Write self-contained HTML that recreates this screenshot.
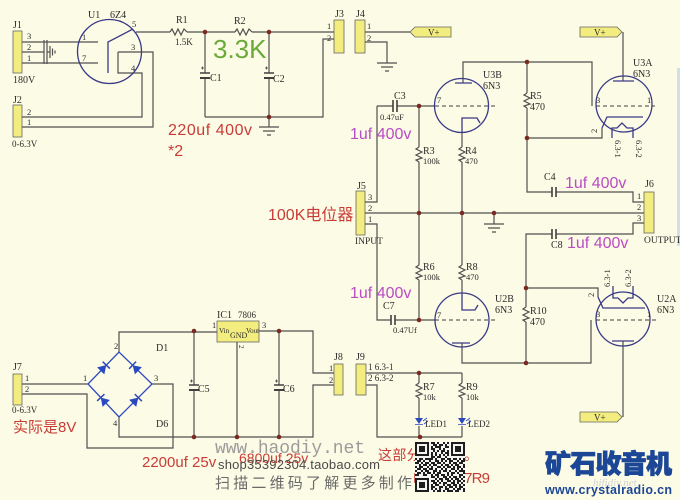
<!DOCTYPE html>
<html><head><meta charset="utf-8">
<style>
html,body{margin:0;padding:0;background:#fcfbe5;}
svg{display:block}
.w{stroke:#505050;stroke-width:1.2;fill:none}
.n{stroke:#3a3a88;stroke-width:1.3;fill:none}
.d{stroke:#404040;stroke-width:1;stroke-dasharray:4 3;fill:none}
.b{stroke:#2a48c0;stroke-width:1.3;fill:none}
.s{font-family:"Liberation Serif",serif;font-size:10px;fill:#2b2b2b}
.p{font-family:"Liberation Serif",serif;font-size:8.5px;fill:#2b2b2b}
.red{font-family:"Liberation Sans","Noto Sans CJK SC",sans-serif;fill:#c83c38}
.pur{font-family:"Liberation Sans",sans-serif;font-size:16px;fill:#b94cc4}
</style></head>
<body>
<svg xmlns="http://www.w3.org/2000/svg" width="680" height="500" viewBox="0 0 680 500">
<rect width="680" height="500" fill="#fcfbe5"/>
<rect x="677" y="68" width="3" height="178" fill="#cfe0ea"/>

<!-- connectors -->
<g fill="#f2ed7e" stroke="#666" stroke-width="0.8">
<rect x="13" y="31" width="9" height="42"/>
<rect x="13" y="105" width="9" height="32"/>
<rect x="334" y="20" width="10" height="33"/>
<rect x="355" y="20" width="10" height="33"/>
<rect x="356" y="191" width="9" height="44"/>
<rect x="644" y="192" width="10" height="41"/>
<rect x="13" y="374" width="9" height="31"/>
<rect x="334" y="364" width="9" height="31"/>
<rect x="356" y="364" width="10" height="31"/>
<rect x="217" y="321" width="42" height="21"/>
<polygon points="410,32 415,27 451,27 451,37 415,37"/>
<polygon points="580,27 617,27 622,32 617,37 580,37"/>
<polygon points="580,412 617,412 622,417 617,422 580,422"/>
</g>

<!-- wires -->
<path class="w" d="M22,42H98 M22,63H98 M22,52H44 M44,40V64 M47,40V64 M47,52H50 M50,46V58 M52.5,48.5V55.5 M55,50.5V53.5
M118,52H153V127H22 M118,52V73H142V117H22
M136,32H170 M187,32H235 M252,32H334
M205,32V73 M205,79V117 M269,32V73 M269,79V117 M205,117H323V39H334 M269,117V127
M365,32H410 M365,42H387V63
M259,127H279 M263,131H275 M267,135H271 M377,63H397 M381,67H393 M385,71H389 M484,224H504 M488,228H500 M492,232H496
M377,106H393 M397,106H435 M377,106V202H365 M365,213H644 M365,224H377V320H391 M395,320H435
M419,106V147 M419,162V265 M419,280V320
M462,162V265 M462,280V293
M462,133V147
M463,83V62H592V106
M527,62V93 M527,108V192H552 M556,192H633V202H644
M527,138H602V128
M494,213V224
M644,223H633V234H556 M552,234H526V307 M526,322V363
M526,288H598V297
M462,343V363H591V320
M623,32V81 M623,341V417
M22,384H88 M22,394H87V448H173V384H152
M119,352V332H217 M119,417V437H313V385H334 M259,331H313V373H334
M237,342V437
M194,331V385 M194,390V437 M279,331V385 M279,390V437
M366,373H462 M366,385H377V437H462
M419,373V383 M419,398V418 M419,426V437 M462,373V383 M462,398V418 M462,426V437"/>

<!-- resistors -->
<path class="w" d="M170,32L172,29L175,35L178,29L181,35L184,29L187,32
M235,32L237,29L240,35L243,29L246,35L249,29L252,32
M419,147L416,149L422,152L416,155L422,158L416,160L419,162
M462,147L459,149L465,152L459,155L465,158L459,160L462,162
M527,93L524,95L530,98L524,101L530,104L524,106L527,108
M419,265L416,267L422,270L416,273L422,276L416,278L419,280
M462,265L459,267L465,270L459,273L465,276L459,278L462,280
M526,307L523,309L529,312L523,315L529,318L523,320L526,322
M419,383L416,385L422,388L416,391L422,394L416,396L419,398
M462,383L459,385L465,388L459,391L465,394L459,396L462,398"/>

<!-- capacitors -->
<path stroke="#404040" stroke-width="1.6" fill="none" d="M200,73H210 M264,73H274 M393,100V112 M397,100V112 M552,187V197 M556,187V197 M391,315V325 M395,315V325 M552,229V239 M556,229V239 M189,385H199 M274,385H284"/>
<g fill="#404040"><rect x="200" y="77" width="10" height="2"/><rect x="264" y="77" width="10" height="2"/><rect x="189" y="389" width="10" height="2"/><rect x="274" y="389" width="10" height="2"/></g>
<path stroke="#404040" stroke-width="0.8" d="M201,68H204 M202.5,66.5V69.5 M265,68H268 M266.5,66.5V69.5 M190,381H193 M191.5,379.5V382.5 M275,381H278 M276.5,379.5V382.5"/>

<!-- tubes -->
<g class="n">
<circle cx="109.5" cy="51.5" r="32"/>
<path d="M108,73V42L133,29"/>
<circle cx="461.5" cy="105.5" r="27"/>
<path d="M455,83H472 M462,133V118H477L480,123"/>
<circle cx="624" cy="104" r="28"/>
<path d="M613,81H634 M602,128L607,117H643 M612,138V128H617L622,123L627,128H633V138"/>
<circle cx="462" cy="320" r="27"/>
<path d="M462,293V310H475L478,305 M452,343H470"/>
<circle cx="623" cy="319" r="27"/>
<path d="M612,341H634 M598,297L603,308H645 M613,286V298H618L623,303L628,298H633V286"/>
</g>
<path class="d" d="M435,106H498 M596,106H655 M435,320H495 M596,320H657"/>

<!-- bridge -->
<path class="b" d="M88,384L119,352L152,384L119,417Z"/>
<g fill="#2a48c0" stroke="#2a48c0" stroke-width="1.5">
<g transform="translate(103.5,368) rotate(-46)"><polygon points="-4,-5 -4,5 4,0" stroke="none"/><line x1="4" y1="-5" x2="4" y2="5"/></g>
<g transform="translate(135.5,368) rotate(-136)"><polygon points="-4,-5 -4,5 4,0" stroke="none"/><line x1="4" y1="-5" x2="4" y2="5"/></g>
<g transform="translate(103.5,400.5) rotate(-133)"><polygon points="-4,-5 -4,5 4,0" stroke="none"/><line x1="4" y1="-5" x2="4" y2="5"/></g>
<g transform="translate(135.5,400.5) rotate(-45)"><polygon points="-4,-5 -4,5 4,0" stroke="none"/><line x1="4" y1="-5" x2="4" y2="5"/></g>
</g>
<!-- LEDs -->
<g fill="#2a48c0" stroke="#2a48c0" stroke-width="1.2">
<polygon points="415,418 423,418 419,424" stroke="none"/><path d="M415,424.5H423 M423,421L427,418 M424,424L428,421" fill="none" stroke-width="0.8"/>
<polygon points="458,418 466,418 462,424" stroke="none"/><path d="M458,424.5H466 M466,421L470,418 M467,424L471,421" fill="none" stroke-width="0.8"/>
</g>

<!-- junctions -->
<g fill="#7a2a22">
<circle cx="205" cy="32" r="2.3"/><circle cx="269" cy="32" r="2.3"/><circle cx="269" cy="117" r="2.3"/>
<circle cx="419" cy="106" r="2.3"/><circle cx="527" cy="62" r="2.3"/><circle cx="527" cy="138" r="2.3"/>
<circle cx="419" cy="213" r="2.3"/><circle cx="462" cy="213" r="2.3"/><circle cx="494" cy="213" r="2.3"/>
<circle cx="419" cy="320" r="2.3"/><circle cx="526" cy="288" r="2.3"/><circle cx="526" cy="363" r="2.3"/>
<circle cx="194" cy="331" r="2.3"/><circle cx="279" cy="331" r="2.3"/><circle cx="194" cy="437" r="2.3"/>
<circle cx="237" cy="437" r="2.3"/><circle cx="279" cy="437" r="2.3"/><circle cx="419" cy="373" r="2.3"/>
<circle cx="420" cy="437" r="2.3"/>
</g>

<!-- labels -->
<g class="s">
<text x="13" y="28">J1</text><text x="13" y="83">180V</text><text x="13" y="103">J2</text><text x="12" y="147" font-size="9">0-6.3V</text>
<text x="88" y="18">U1</text><text x="110" y="18">6Z4</text>
<text x="176" y="23">R1</text><text x="175" y="45" font-size="9">1.5K</text>
<text x="234" y="24">R2</text><text x="210" y="81">C1</text><text x="273" y="82">C2</text>
<text x="335" y="17">J3</text><text x="356" y="17">J4</text>
<text x="394" y="99">C3</text>
<text x="423" y="154">R3</text><text x="465" y="154">R4</text>
<text x="483" y="78">U3B</text><text x="483" y="89">6N3</text>
<text x="530" y="99">R5</text><text x="530" y="110">470</text>
<text x="633" y="66">U3A</text><text x="633" y="77">6N3</text>
<text x="357" y="189">J5</text><text x="355" y="244" font-size="9.5">INPUT</text>
<text x="544" y="180">C4</text><text x="645" y="187">J6</text><text x="644" y="243" font-size="9.5">OUTPUT</text>
<text x="551" y="248">C8</text>
<text x="423" y="270">R6</text><text x="466" y="270">R8</text>
<text x="383" y="309">C7</text>
<text x="495" y="302">U2B</text><text x="495" y="313">6N3</text>
<text x="530" y="314">R10</text><text x="530" y="325">470</text>
<text x="657" y="302">U2A</text><text x="657" y="313">6N3</text>
<text x="334" y="360">J8</text><text x="356" y="360">J9</text>
<text x="423" y="390">R7</text><text x="466" y="390">R9</text>
<text x="425" y="427" font-size="9">LED1</text><text x="468" y="427" font-size="9">LED2</text>
<text x="156" y="351">D1</text><text x="156" y="427">D6</text>
<text x="13" y="370">J7</text><text x="12" y="413" font-size="9">0-6.3V</text>
<text x="217" y="318">IC1</text><text x="238" y="318" font-size="9">7806</text>
<text x="198" y="392">C5</text><text x="283" y="392">C6</text>
<text x="428" y="35.5" font-size="9">V+</text><text x="594" y="35.5" font-size="9">V+</text><text x="594" y="420.5" font-size="9">V+</text>
</g>
<g class="p">
<text x="27" y="39">3</text><text x="27" y="50">2</text><text x="27" y="61">1</text>
<text x="27" y="115">2</text><text x="27" y="125">1</text>
<text x="132" y="27">5</text><text x="82" y="40">1</text><text x="82" y="61">7</text><text x="131" y="50">3</text><text x="131" y="71">4</text>
<text x="327" y="29">1</text><text x="327" y="41">2</text><text x="367" y="29">1</text><text x="367" y="41">2</text>
<text x="380" y="120">0.47uF</text>
<text x="423" y="164">100k</text><text x="465" y="164">470</text>
<text x="368" y="200">3</text><text x="368" y="211">2</text><text x="368" y="222">1</text>
<text x="637" y="199">1</text><text x="637" y="210">2</text><text x="637" y="221">3</text>
<text x="423" y="280">100k</text><text x="466" y="280">470</text>
<text x="393" y="333">0.47Uf</text>
<text x="437" y="103">7</text><text x="437" y="318">7</text>
<text x="596" y="103">3</text><text x="647" y="103">1</text><text x="596" y="317">3</text><text x="647" y="317">1</text>
<text x="329" y="371">1</text><text x="329" y="383">2</text>
<text x="368" y="370" font-size="9">1 6.3-1</text><text x="368" y="381" font-size="9">2 6.3-2</text>
<text x="423" y="400">10k</text><text x="466" y="400">10k</text>
<text x="25" y="381">1</text><text x="25" y="392">2</text>
<text x="114" y="349">2</text><text x="83" y="381">1</text><text x="154" y="381">3</text><text x="113" y="426">4</text>
<text x="212" y="328">1</text><text x="262" y="328">3</text>
<text x="219" y="333" font-size="7">Vin</text><text x="230" y="338" font-size="8">GND</text><text x="246" y="333" font-size="7">Vout</text>
<text transform="translate(597,133) rotate(-90)">2</text>
<text transform="translate(594,297) rotate(-90)">2</text>
<text transform="translate(239,345) rotate(90)" font-size="7">2</text>
<text transform="translate(615,140) rotate(90)">6.3-1</text>
<text transform="translate(636,140) rotate(90)">6.3-2</text>
<text transform="translate(610,287) rotate(-90)">6.3-1</text>
<text transform="translate(631,287) rotate(-90)">6.3-2</text>
</g>

<!-- coloured annotations -->
<text x="213" y="58" font-family="Liberation Sans,sans-serif" font-size="26" fill="#6aaa3a">3.3K</text>
<text class="red" x="168" y="135" font-size="16" textLength="84">220uf 400v</text>
<text class="red" x="168" y="156" font-size="16">*2</text>
<text class="pur" x="350" y="139">1uf 400v</text>
<text class="pur" x="565" y="188">1uf 400v</text>
<text class="pur" x="567" y="248">1uf 400v</text>
<text class="pur" x="350" y="298">1uf 400v</text>
<text class="red" x="268" y="220" font-size="16">100K电位器</text>
<text class="red" x="13" y="432" font-size="15">实际是8V</text>
<text class="red" x="142" y="467" font-size="15">2200uf 25v</text>
<text class="red" x="239" y="463" font-size="14">6800uf 25v</text>
<text class="red" x="378" y="460" font-size="14" textLength="100">这部分不要了。</text>
<text class="red" x="413" y="483" font-size="15" textLength="77">LED及R7R9</text>

<!-- watermarks -->
<text x="215" y="453" font-family="Liberation Mono,monospace" font-size="18" fill="#9c9c9c" textLength="150">www.haodiy.net</text>
<text x="218" y="469" font-family="Liberation Sans,sans-serif" font-size="13" fill="#4a4a4a" textLength="162">shop35392304.taobao.com</text>
<text x="215" y="488" font-family="Liberation Sans,'Noto Sans CJK SC',sans-serif" font-size="15" fill="#6a6a6a" textLength="197">扫描二维码了解更多制作</text>
<text x="593" y="486" font-family="Liberation Serif,serif" font-size="11" fill="#d2d2d2" font-style="italic">hifidiy.net</text>

<!-- QR -->
<g transform="translate(415,442) scale(2)">
<rect x="0" y="0" width="25" height="25" fill="#f4f4f0"/>
<path stroke="#1e1e1e" stroke-width="1" fill="none" d="M0 .5H7M8 .5H10M11 .5H12M14 .5H15M16 .5H17M18 .5H25
M0 1.5H1M6 1.5H7M9 1.5H11M12 1.5H14M15 1.5H16M18 1.5H19M24 1.5H25
M0 2.5H1M2 2.5H5M6 2.5H7M8 2.5H9M10 2.5H13M15 2.5H17M18 2.5H19M20 2.5H23M24 2.5H25
M0 3.5H1M2 3.5H5M6 3.5H7M8 3.5H10M12 3.5H13M14 3.5H15M18 3.5H19M20 3.5H23M24 3.5H25
M0 4.5H1M2 4.5H5M6 4.5H7M9 4.5H10M11 4.5H12M13 4.5H15M16 4.5H17M18 4.5H19M20 4.5H23M24 4.5H25
M0 5.5H1M6 5.5H7M8 5.5H9M10 5.5H11M13 5.5H14M15 5.5H17M18 5.5H19M24 5.5H25
M0 6.5H7M8 6.5H9M10 6.5H11M12 6.5H13M14 6.5H15M16 6.5H17M18 6.5H25
M8 7.5H10M11 7.5H13M15 7.5H16
M0 8.5H1M2 8.5H4M5 8.5H9M10 8.5H11M13 8.5H15M16 8.5H18M19 8.5H21M22 8.5H23M24 8.5H25
M1 9.5H3M4 9.5H5M7 9.5H8M10 9.5H12M13 9.5H14M15 9.5H16M17 9.5H19M21 9.5H22M23 9.5H25
M0 10.5H2M3 10.5H4M5 10.5H7M8 10.5H10M11 10.5H13M14 10.5H15M17 10.5H18M19 10.5H21M22 10.5H24
M2 11.5H3M4 11.5H6M7 11.5H8M9 11.5H11M13 11.5H14M15 11.5H17M18 11.5H19M20 11.5H22M24 11.5H25
M0 12.5H1M2 12.5H4M6 12.5H7M8 12.5H9M11 12.5H13M14 12.5H15M16 12.5H18M19 12.5H20M21 12.5H23M24 12.5H25
M1 13.5H3M4 13.5H6M7 13.5H9M10 13.5H11M13 13.5H14M15 13.5H16M18 13.5H20M21 13.5H22M23 13.5H24
M0 14.5H1M3 14.5H4M5 14.5H7M9 14.5H11M12 14.5H13M14 14.5H16M17 14.5H18M20 14.5H21M22 14.5H25
M1 15.5H3M4 15.5H5M6 15.5H8M9 15.5H10M11 15.5H13M16 15.5H17M18 15.5H20M21 15.5H22M24 15.5H25
M0 16.5H2M4 16.5H6M8 16.5H9M10 16.5H12M13 16.5H15M16 16.5H17M18 16.5H19M22 16.5H24
M8 17.5H10M11 17.5H12M14 17.5H16M17 17.5H18M19 17.5H21M22 17.5H23M24 17.5H25
M0 18.5H7M10 18.5H11M12 18.5H14M15 18.5H17M18 18.5H19M20 18.5H22M23 18.5H24
M0 19.5H1M6 19.5H7M8 19.5H10M11 19.5H12M13 19.5H14M16 19.5H18M19 19.5H20M21 19.5H23M24 19.5H25
M0 20.5H1M2 20.5H5M6 20.5H7M9 20.5H11M12 20.5H13M14 20.5H16M18 20.5H20M21 20.5H22M23 20.5H24
M0 21.5H1M2 21.5H5M6 21.5H7M8 21.5H9M10 21.5H12M14 21.5H15M16 21.5H18M19 21.5H21M22 21.5H23M24 21.5H25
M0 22.5H1M2 22.5H5M6 22.5H7M8 22.5H10M12 22.5H14M15 22.5H16M17 22.5H19M20 22.5H21M22 22.5H24
M0 23.5H1M6 23.5H7M8 23.5H9M10 23.5H11M12 23.5H13M15 23.5H17M19 23.5H20M21 23.5H23M24 23.5H25
M0 24.5H7M9 24.5H10M11 24.5H13M14 24.5H15M16 24.5H19M20 24.5H22M24 24.5H25"/>
</g>

<!-- logo -->
<text x="545" y="473" font-family="'Noto Sans CJK SC','WenQuanYi Zen Hei',sans-serif" font-size="26" font-weight="900" fill="#1c4796" stroke="#1c4796" stroke-width="0.8" textLength="127">矿石收音机</text>
<text x="545" y="494" font-family="Liberation Sans,sans-serif" font-size="12.5" font-weight="bold" fill="#1c4796" textLength="127">www.crystalradio.cn</text>
</svg>
</body></html>
